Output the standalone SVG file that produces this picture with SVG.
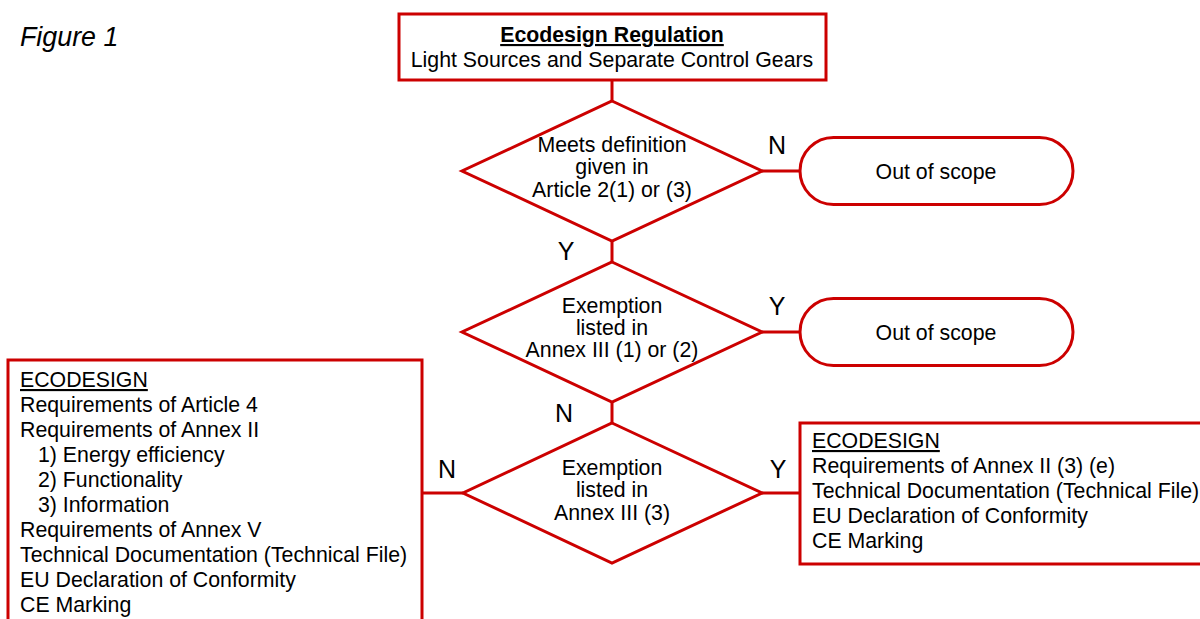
<svg xmlns="http://www.w3.org/2000/svg" width="1200" height="619" viewBox="0 0 1200 619">
<style>
.s{fill:#fff;stroke:#cc0000;stroke-width:3}
.c{fill:none;stroke:#cc0000;stroke-width:3}
text{font-family:"Liberation Sans",Arial,sans-serif;font-size:21.3px;fill:#000}
.m{text-anchor:middle}
.lb{font-size:25px;text-anchor:middle}
.u{text-decoration:underline}
</style>
<rect width="1200" height="619" fill="#fff"/>
<text x="20" y="46" style="font-size:26.8px;font-style:italic">Figure 1</text>
<g id="connectors">
<line class="c" x1="612" y1="80" x2="612" y2="101"/>
<line class="c" x1="762" y1="171" x2="800" y2="171"/>
<line class="c" x1="612" y1="241" x2="612" y2="262"/>
<line class="c" x1="762" y1="332" x2="800" y2="332"/>
<line class="c" x1="612" y1="402" x2="612" y2="423"/>
<line class="c" x1="463" y1="493" x2="422" y2="493"/>
<line class="c" x1="762" y1="493" x2="800" y2="493"/>
<text class="lb" x="777" y="154">N</text>
<text class="lb" x="566" y="260">Y</text>
<text class="lb" x="777" y="315">Y</text>
<text class="lb" x="564" y="422">N</text>
<text class="lb" x="447" y="478">N</text>
<text class="lb" x="778" y="478">Y</text>
</g>
<g id="title">
<rect class="s" x="399" y="14" width="427" height="66"/>
<text class="m u" x="612" y="42" style="font-weight:bold">Ecodesign Regulation</text>
<text class="m" x="612" y="67">Light Sources and Separate Control Gears</text>
</g>
<g id="d1">
<polygon class="s" points="612,101 762,171 612,241 462,171"/>
<text class="m" x="612" y="152">Meets definition</text>
<text class="m" x="612" y="174">given in</text>
<text class="m" x="612" y="197">Article 2(1) or (3)</text>
</g>
<g id="out1">
<rect class="s" x="800" y="137.5" width="273" height="67" rx="33.5"/>
<text class="m" x="936" y="179">Out of scope</text>
</g>
<g id="d2">
<polygon class="s" points="612,262 762,332 612,402 462,332"/>
<text class="m" x="612" y="313">Exemption</text>
<text class="m" x="612" y="335">listed in</text>
<text class="m" x="612" y="357">Annex III (1) or (2)</text>
</g>
<g id="out2">
<rect class="s" x="800" y="298.5" width="273" height="67" rx="33.5"/>
<text class="m" x="936" y="340">Out of scope</text>
</g>
<g id="d3">
<polygon class="s" points="612,423 762,493 612,563 463,493"/>
<text class="m" x="612" y="475">Exemption</text>
<text class="m" x="612" y="497">listed in</text>
<text class="m" x="612" y="520">Annex III (3)</text>
</g>
<g id="left">
<rect class="s" x="8" y="360" width="414" height="280"/>
<text class="u" x="20" y="387">ECODESIGN</text>
<text x="20" y="412">Requirements of Article 4</text>
<text x="20" y="437">Requirements of Annex II</text>
<text x="38" y="462">1) Energy efficiency</text>
<text x="38" y="487">2) Functionality</text>
<text x="38" y="512">3) Information</text>
<text x="20" y="537">Requirements of Annex V</text>
<text x="20" y="562">Technical Documentation (Technical File)</text>
<text x="20" y="587">EU Declaration of Conformity</text>
<text x="20" y="612">CE Marking</text>
</g>
<g id="right">
<rect class="s" x="800" y="423" width="420" height="141"/>
<text class="u" x="812" y="448">ECODESIGN</text>
<text x="812" y="473">Requirements of Annex II (3) (e)</text>
<text x="812" y="498">Technical Documentation (Technical File)</text>
<text x="812" y="523">EU Declaration of Conformity</text>
<text x="812" y="548">CE Marking</text>
</g>
</svg>
